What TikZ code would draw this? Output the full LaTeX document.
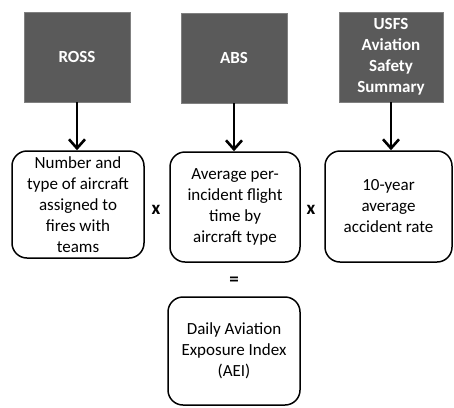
\documentclass[tikz,border=0pt]{standalone}
\usepackage{fontspec}
\setmainfont{Carlito}
\usetikzlibrary{arrows.meta}
\definecolor{srcgray}{HTML}{5A5A5A}
\definecolor{srcedge}{HTML}{808080}
\tikzset{
  srcbox/.style={fill=srcgray, draw=srcedge, line width=0.8pt, text=white,
    font=\bfseries\fontsize{17}{21}\selectfont, align=center, inner sep=0pt},
  rbox/.style={draw=black, line width=1.5pt, rounded corners=15pt, fill=white,
    font=\fontsize{17}{21}\selectfont, align=center, inner sep=0pt},
  flow/.style={line width=2.6pt, -{Straight Barb[length=9pt,width=16pt,line width=2.6pt]}},
  op/.style={font=\bfseries\fontsize{19}{23}\selectfont, inner sep=0pt}
}
\begin{document}
\begin{tikzpicture}[x=1pt,y=-1pt]
\useasboundingbox (0,0) rectangle (454,407);
% source boxes
\node[srcbox, minimum width=106pt, minimum height=90pt] (ross) at (77,57) {ROSS};
\node[srcbox, minimum width=106pt, minimum height=90pt] (abs) at (234,58) {ABS};
\node[srcbox, minimum width=104pt, minimum height=90pt] (usfs) at (391,57) {USFS\\Aviation\\Safety\\Summary};
% rounded boxes
\node[rbox, minimum width=132pt, minimum height=107pt] (num) at (78,204.5) {Number and\\type of aircraft\\assigned to\\fires with\\teams};
\node[rbox, minimum width=130pt, minimum height=110pt] (avg) at (235,207) {Average per-\\incident flight\\time by\\aircraft type};
\node[rbox, minimum width=127pt, minimum height=111pt] (rate) at (388.5,206.5) {10-year\\average\\accident rate};
\node[rbox, minimum width=132pt, minimum height=108pt] (aei) at (234,351) {Daily Aviation\\Exposure Index\\(AEI)};
% operators
\node[op] (x1) at (156,210) {x};
\node[op] (x2) at (311,210) {x};
\node[op] (eq) at (234,281) {=};
% arrows
\draw[flow] (ross.south) -- (ross.south |- num.north);
\draw[flow] (abs.south) -- (abs.south |- avg.north);
\draw[flow] (usfs.south) -- (usfs.south |- rate.north);
\end{tikzpicture}
\end{document}
